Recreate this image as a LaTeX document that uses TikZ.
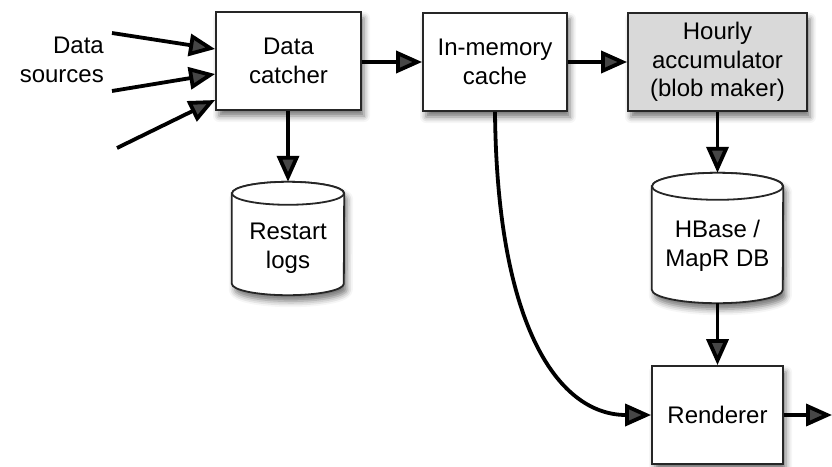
\documentclass[tikz,border=0pt]{standalone}
\usepackage{fontspec}
\setmainfont{Liberation Sans}
\usetikzlibrary{arrows.meta,shadows.blur,calc}

\tikzset{
  lbl/.style={font=\fontsize{24}{28.5}\selectfont, align=center, inner sep=0pt},
  soft/.style={blur shadow={shadow xshift=3pt, shadow yshift=-6pt,
      shadow blur radius=6pt, shadow opacity=55}},
  procbox/.style={lbl, draw=black!85, line width=1.8pt, fill=white, soft},
  dbnode/.style={lbl, draw=none},
  cylline/.style={draw=black!85, line width=1.8pt, fill=white},
  flow/.style={line width=3.8pt, -{Triangle[length=26pt, width=22pt]}},
}

\begin{document}
\begin{tikzpicture}[x=1pt, y=1pt]
  \useasboundingbox (0,0) rectangle (832,-466);

  % processing stages
  \node[procbox, minimum width=145pt, minimum height=98pt] (catcher) at (288.5,-61) {Data\\catcher};
  \node[procbox, minimum width=144pt, minimum height=98pt] (cache) at (495,-62) {In-memory\\cache};
  \node[procbox, fill=black!15, minimum width=179pt, minimum height=98pt] (accum) at (717.5,-62) {Hourly\\accumulator\\(blob maker)};
  \node[procbox, minimum width=131pt, minimum height=98pt] (render) at (717.5,-415) {Renderer};

  % storage nodes (cylinder outlines drawn below)
  \node[dbnode, minimum width=112pt, minimum height=113pt] (logs) at (288,-238.5) {};
  \node[dbnode, minimum width=131pt, minimum height=130pt] (hbase) at (717.5,-238) {};

  % cylinder for restart logs
  \path[cylline, soft]
    ($(logs.north west)+(0,-11.5)$) -- ($(logs.south west)+(0,11.5)$)
    arc[start angle=180, end angle=360, x radius=56pt, y radius=11.5pt]
    -- ($(logs.north east)+(0,-11.5)$)
    arc[start angle=0, end angle=180, x radius=56pt, y radius=11.5pt] -- cycle;
  \draw[cylline] ($(logs.north)+(0,-11.5)$) ellipse[x radius=56pt, y radius=11.5pt];
  \node[lbl] (logstext) at (288,-248) {Restart\\logs};

  % cylinder for the database
  \path[cylline, soft]
    ($(hbase.north west)+(0,-13.5)$) -- ($(hbase.south west)+(0,13.5)$)
    arc[start angle=180, end angle=360, x radius=65.5pt, y radius=13.5pt]
    -- ($(hbase.north east)+(0,-13.5)$)
    arc[start angle=0, end angle=180, x radius=65.5pt, y radius=13.5pt] -- cycle;
  \draw[cylline] ($(hbase.north)+(0,-13.5)$) ellipse[x radius=65.5pt, y radius=13.5pt];
  \node[lbl] (hbasetext) at (717.5,-246) {HBase /\\MapR DB};

  % incoming data sources
  \node[lbl, align=right, anchor=east] (src) at (104,-60) {Data\\sources};
  \coordinate (s1) at (112,-33);
  \coordinate (s2) at (112,-91);
  \coordinate (s3) at (117,-148);
  \coordinate (c1) at (catcher.west |- 0,-49);
  \coordinate (c2) at (catcher.west |- 0,-74);
  \coordinate (c3) at (catcher.west |- 0,-100);
  \draw[flow] (s1) -- (c1);
  \draw[flow] (s2) -- (c2);
  \draw[flow] (s3) -- (c3);

  % main flow
  \draw[flow] (catcher.east |- 0,-62) -- (cache.west |- 0,-62);
  \draw[flow] (cache) -- (accum);
  \draw[flow] (catcher.south -| logs.north) -- (logs.north);
  \draw[flow] (accum.south) -- (hbase.north);
  \draw[flow] (hbase.south) -- (render.north);
  \draw[flow] (cache.south) .. controls (497,-330) and (560,-415) .. (render.west);
  \coordinate (out) at (832,-415);
  \draw[flow] (render.east) -- (out);
\end{tikzpicture}
\end{document}
